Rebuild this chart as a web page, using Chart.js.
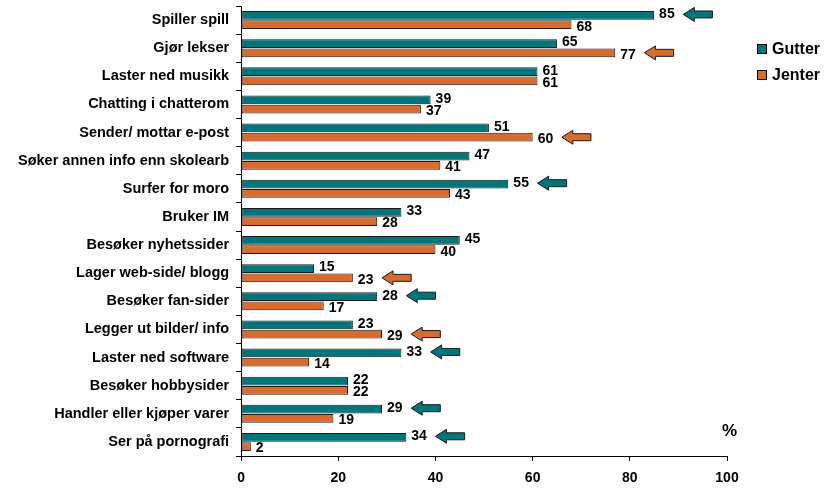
<!DOCTYPE html>
<html>
<head>
<meta charset="utf-8">
<script src="https://cdn.jsdelivr.net/npm/chart.js@4.4.0/dist/chart.umd.min.js"></script>
<style>
  html, body { margin: 0; padding: 0; background: #fff; }
  #wrap { width: 829px; height: 489px; position: relative; }
</style>
</head>
<body>
<div id="wrap"><canvas id="c"></canvas></div>
<script>
const categories = [
  'Spiller spill', 'Gjør lekser', 'Laster ned musikk', 'Chatting i chatterom',
  'Sender/ mottar e-post', 'Søker annen info enn skolearb', 'Surfer for moro',
  'Bruker IM', 'Besøker nyhetssider', 'Lager web-side/ blogg', 'Besøker fan-sider',
  'Legger ut bilder/ info', 'Laster ned software', 'Besøker hobbysider',
  'Handler eller kjøper varer', 'Ser på pornografi'
];
const gutter = [85, 65, 61, 39, 51, 47, 55, 33, 45, 15, 28, 23, 33, 22, 29, 34];
const jenter = [68, 77, 61, 37, 60, 41, 43, 28, 40, 23, 17, 29, 14, 22, 19, 2];
// which bar gets an arrow: [category index, dataset index]
const arrows = [[0, 0], [1, 1], [4, 1], [6, 0], [9, 1], [10, 0], [11, 1], [12, 0], [14, 0], [15, 0]];
const xTicks = [0, 20, 40, 60, 80, 100];

const teal = '#00757A';
const orange = '#D86B2E';
const family = '"Liberation Sans", Arial, sans-serif';

const extras = {
  id: 'extras',
  afterDatasetsDraw(chart) {
    const ctx = chart.ctx;
    const x = chart.scales.x;
    ctx.save();
    ctx.font = 'bold 14px ' + family;
    ctx.fillStyle = '#000';
    ctx.textBaseline = 'middle';
    chart.data.datasets.forEach((ds, di) => {
      chart.getDatasetMeta(di).data.forEach((bar, i) => {
        ctx.fillText(ds.data[i], bar.x + 5, bar.y + (di === 0 ? -1 : 2));
      });
    });
    // arrows
    arrows.forEach(([i, di]) => {
      const ds = chart.data.datasets[di];
      const bar = chart.getDatasetMeta(di).data[i];
      const tip = x.getPixelForValue(ds.data[i] + 6);
      const tail = x.getPixelForValue(ds.data[i] + 12);
      const y = bar.y - (di === 0 ? 1 : 0);
      const head = 11;
      ctx.beginPath();
      ctx.moveTo(tip, y);
      ctx.lineTo(tip + head, y - 7);
      ctx.lineTo(tip + head, y - 3.5);
      ctx.lineTo(tail, y - 3.5);
      ctx.lineTo(tail, y + 3.5);
      ctx.lineTo(tip + head, y + 3.5);
      ctx.lineTo(tip + head, y + 7);
      ctx.closePath();
      ctx.fillStyle = ds.backgroundColor;
      ctx.fill();
      ctx.strokeStyle = '#1a1a1a';
      ctx.lineWidth = 1;
      ctx.stroke();
    });
    // legend
    ctx.font = 'bold 16px ' + family;
    chart.data.datasets.forEach((ds, di) => {
      const ly = 49 + di * 26;
      ctx.fillStyle = ds.backgroundColor;
      ctx.fillRect(757, ly - 5, 10, 10);
      ctx.strokeStyle = '#000';
      ctx.strokeRect(757.5, ly - 4.5, 9, 9);
      ctx.fillStyle = '#000';
      ctx.fillText(ds.label, 772, ly + 1);
    });
    ctx.font = 'bold 17px ' + family;
    ctx.fillText('%', 722, 431);
    ctx.restore();
  }
};

new Chart(document.getElementById('c'), {
  type: 'bar',
  data: {
    labels: categories,
    datasets: [
      { label: 'Gutter', data: gutter, backgroundColor: teal, borderColor: '#1a1a1a', borderWidth: 1, borderSkipped: false },
      { label: 'Jenter', data: jenter, backgroundColor: orange, borderColor: '#1a1a1a', borderWidth: 1, borderSkipped: false }
    ]
  },
  options: {
    indexAxis: 'y',
    responsive: true,
    maintainAspectRatio: false,
    animation: false,
    layout: { padding: { top: 6, right: 102, bottom: 0, left: 11 } },
    categoryPercentage: 0.66,
    barPercentage: 0.94,
    scales: {
      x: {
        min: 0, max: 100,
        afterBuildTicks: axis => { axis.ticks = xTicks.map(v => ({ value: v })); },
        afterFit: scale => { scale.height = 33; },
        grid: { drawOnChartArea: false, tickLength: 5, color: '#000' },
        border: { color: '#000', width: 1 },
        ticks: { color: '#000', font: { family, size: 14, weight: 'bold' }, padding: 9 }
      },
      y: {
        afterFit: scale => { scale.paddingTop = 0; scale.paddingBottom = 0; },
        grid: { drawOnChartArea: false, tickLength: 5, color: '#000', offset: true },
        border: { color: '#000', width: 1 },
        ticks: { color: '#000', font: { family, size: 14.5, weight: 'bold' }, padding: 7 }
      }
    },
    plugins: {
      legend: { display: false },
      tooltip: { enabled: false }
    }
  },
  plugins: [extras]
});
</script>
</body>
</html>
